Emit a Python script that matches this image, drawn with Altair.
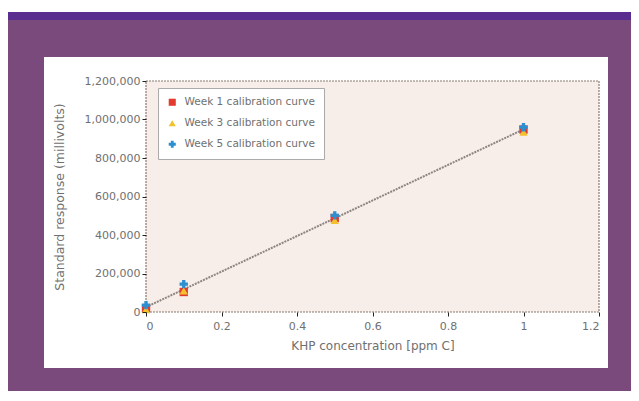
import altair as alt
import pandas as pd

# ---- data ----
conc = [0, 0.1, 0.5, 1.0]
week1 = [20000, 104000, 488000, 948000]
week3 = [12000, 110000, 476000, 935000]
week5 = [36000, 145000, 502000, 960000]
series_names = ["Week 1 calibration curve", "Week 3 calibration curve", "Week 5 calibration curve"]
series_colors = ["#e33b2e", "#f2c12e", "#2e8fd0"]
series_shapes = ["square", "triangle-up", "cross"]
x_ticks = [0, 0.2, 0.4, 0.6, 0.8, 1.0, 1.2]
y_ticks = [0, 200000, 400000, 600000, 800000, 1000000, 1200000]

rows = []
for name, vals in zip(series_names, [week1, week3, week5]):
    for c, v in zip(conc, vals):
        rows.append({"conc": c, "resp": v, "series": name})
df = pd.DataFrame(rows)

one = pd.DataFrame({"k": [0]})
FONT = "DejaVu Sans"
W, H = 453, 231

def deco(x, x2, y, y2, color):
    return alt.Chart(one).mark_rect(color=color, strokeWidth=0).encode(
        x=alt.value(x), x2=alt.value(x2), y=alt.value(y), y2=alt.value(y2)
    )

top_white = deco(-140, 500, -80, -69, "white")
top_bar = deco(-139, 500, -69, -61, "#5a2e8f")
panel = deco(-102, 462, -24, 287, "white")
plot_fill = alt.Chart(one).mark_rect(
    color="#f7eeea", stroke="#8a7a70", strokeWidth=1.2, strokeDash=[2, 1]
).encode(x=alt.value(0), x2=alt.value(W), y=alt.value(0), y2=alt.value(H))

xscale = alt.Scale(domain=[0, 1.2], nice=False)
yscale = alt.Scale(domain=[0, 1200000], nice=False)

xaxis = alt.Axis(values=x_ticks, format="~g", title="KHP concentration [ppm C]",
                 grid=False, zindex=1, domain=False, tickColor="#222", labelOverlap=False,
                 tickSize=4, labelPadding=4, titlePadding=9, titleFontSize=12)
yaxis = alt.Axis(values=y_ticks, format=",.0f", title="Standard response (millivolts)",
                 grid=False, zindex=1, domain=False, tickColor="#222", labelOverlap=False,
                 tickSize=4, labelPadding=2, titlePadding=18, titleFontSize=12.5)

base = alt.Chart(df)

trend = base.transform_regression("conc", "resp").mark_line(
    color="#8c8580", strokeWidth=2, strokeDash=[2, 1]
).encode(
    x=alt.X("conc:Q", scale=xscale, axis=xaxis),
    y=alt.Y("resp:Q", scale=yscale, axis=yaxis),
)

points = base.mark_point(filled=True, size=70, opacity=1).encode(
    x=alt.X("conc:Q", scale=xscale, axis=xaxis),
    y=alt.Y("resp:Q", scale=yscale, axis=yaxis),
    color=alt.Color("series:N", scale=alt.Scale(domain=series_names, range=series_colors),
                    legend=alt.Legend(title=None, orient="none", legendX=12, legendY=7,
                                      zindex=1)),
    shape=alt.Shape("series:N", scale=alt.Scale(domain=series_names, range=series_shapes)),
    order=alt.Order("series:N"),
)

chart = alt.layer(top_white, top_bar, panel, plot_fill, trend, points).properties(
    width=W, height=H,
    background="#7a4a7d",
    padding={"left": 138, "top": 73, "right": 32, "bottom": 79},
    autosize=alt.AutoSizeParams(type="none"),
).configure_view(stroke=None).configure_axis(
    labelFont=FONT, titleFont=FONT, labelFontSize=11,
    labelColor="#707070", titleColor="#707070", titleFontWeight="normal",
).configure_legend(
    labelFont=FONT, labelFontSize=10.5, labelColor="#707070",
    fillColor="white", strokeColor="#aaaaaa", padding=9, rowPadding=10,
    symbolSize=50, symbolStrokeWidth=0, labelLimit=300, labelOffset=7,
)

chart.save("out.html", embed_options={"renderer": "svg", "actions": False})
